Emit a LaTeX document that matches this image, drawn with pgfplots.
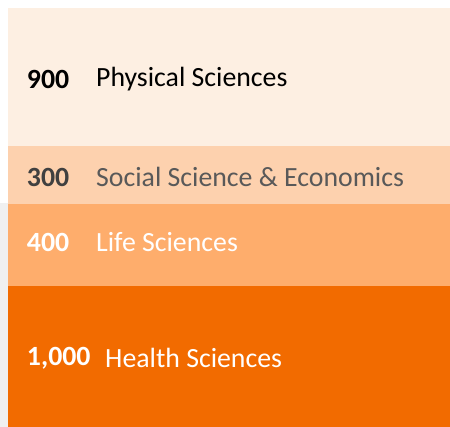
\documentclass[border=0pt]{standalone}
\usepackage{pgfplots}
\pgfplotsset{compat=1.18}
\usepackage{pgfplotstable}
\usepackage{fontspec}
\setmainfont{Carlito}
\definecolor{cPhys}{HTML}{FDEFE2}
\definecolor{cSoc}{HTML}{FDD1AE}
\definecolor{cLife}{HTML}{FEAD6C}
\definecolor{cHealth}{HTML}{F26B00}
\definecolor{cGrayTxt}{HTML}{595959}
\definecolor{cGrayNum}{HTML}{404040}
\definecolor{cBg}{HTML}{F0F0F0}
% segment heights as drawn in the reference (the graphic is not to scale);
% counts shown in the labels: Health 1,000; Life 400; Social 300; Physical 900
\pgfplotstableread{
x health life social physical
0.5 141 82 58 138
}\datatable
\begin{document}
\begin{tikzpicture}
\fill[white] (0bp,0bp) rectangle (450bp,427bp);
\fill[cBg] (0bp,0bp) rectangle (8bp,224bp);
\begin{axis}[
  at={(8bp,0bp)}, anchor=south west,
  width=442bp, height=419bp, scale only axis,
  xmin=0, xmax=1, ymin=0, ymax=419,
  enlargelimits=false, axis lines=none,
  ybar stacked, bar width=1,
  clip=false,
]
\addplot[fill=cHealth, draw=none] table[x=x, y=health] {\datatable};
\addplot[fill=cLife, draw=none] table[x=x, y=life] {\datatable};
\addplot[fill=cSoc, draw=none] table[x=x, y=social] {\datatable};
\addplot[fill=cPhys, draw=none] table[x=x, y=physical] {\datatable};
\coordinate (n1) at (axis cs:0.0425,347.5);
\coordinate (t1) at (axis cs:0.199,347.5);
\coordinate (n2) at (axis cs:0.0425,250);
\coordinate (t2) at (axis cs:0.199,250);
\coordinate (n3) at (axis cs:0.0425,185);
\coordinate (t3) at (axis cs:0.199,185);
\coordinate (n4) at (axis cs:0.0425,69);
\coordinate (t4) at (axis cs:0.2195,69);
\end{axis}
\begin{scope}[every node/.style={font=\fontsize{27.8bp}{33bp}\selectfont, inner sep=0pt, anchor=west}]
\node[text=black] at (n1) {\bfseries 900};
\node[text=black] at (t1) {Physical Sciences};
\node[text=cGrayNum] at (n2) {\bfseries 300};
\node[text=cGrayTxt] at (t2) {Social Science \& Economics};
\node[text=white] at (n3) {\bfseries 400};
\node[text=white] at (t3) {Life Sciences};
\node[text=white] at (n4) {\bfseries 1,000};
\node[text=white] at (t4) {Health Sciences};
\end{scope}
\end{tikzpicture}
\end{document}
